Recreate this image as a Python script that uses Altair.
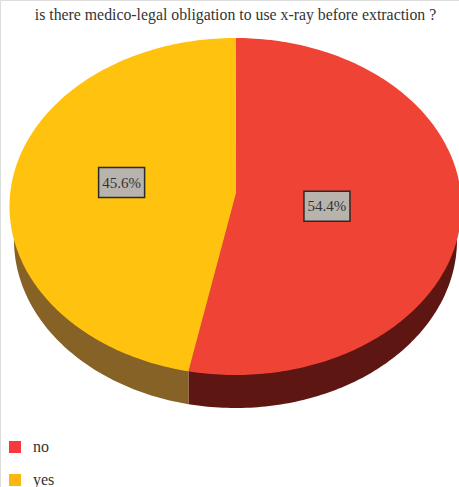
import math
import altair as alt
import pandas as pd

# Survey answers
categories = ["no", "yes"]
shares = [54.4, 45.6]
percent_labels = ["54.4%", "45.6%"]

# Colours
top_colors = ["#ef4335", "#ffc20f"]
wall_colors = ["#5e1613", "#866227"]
legend_colors = ["#f33b3b", "#ffb612"]

# Canvas and pie geometry, in plot units
W, H = 459, 487
TOP = dict(cx=235.5, cy=206.5, rx=226.0, ry=168.5)
BOTTOM = dict(cx=235.5, cy=240.0, rx=221.5, ry=168.0)
APEX = (236.0, 193.0)
FORESHORTEN = 0.9805   # front of the tilted disc reads slightly narrower
label_radius = [0.41, 0.51]
label_turn = [5.0, 1.0]


def on_rim(e, deg):
    t = math.radians(deg)
    return e["cx"] + e["rx"] * math.sin(t), e["cy"] - e["ry"] * math.cos(t)


def arc(e, a, b, step=1.0):
    n = max(2, int(abs(b - a) / step))
    return [on_rim(e, a + (b - a) * k / n) for k in range(n + 1)]


def polygon(points):
    return alt.Data(values=[{"i": i, "x": p[0], "y": p[1]} for i, p in enumerate(points)])


x_scale = alt.Scale(domain=[0, W], range=[0, W], nice=False, zero=False)
y_scale = alt.Scale(domain=[0, H], range=[0, H], nice=False, zero=False)
x_enc = alt.X("x:Q", scale=x_scale, axis=None)
y_enc = alt.Y("y:Q", scale=y_scale, axis=None)


def shape(points, color):
    return (
        alt.Chart(polygon(points))
        .mark_line(interpolate="linear-closed", fill=color, strokeWidth=0, clip=False)
        .encode(x=x_enc, y=y_enc, order=alt.Order("i:Q"))
    )


split = 360.0 * shares[0] / 100.0 * FORESHORTEN
top_split = on_rim(TOP, split)
wall_split = math.degrees(math.pi + math.asin((BOTTOM["cx"] - top_split[0]) / BOTTOM["rx"]))

walls = [
    shape(arc(BOTTOM, 80, wall_split) + [top_split, APEX], wall_colors[0]),
    shape([top_split] + arc(BOTTOM, wall_split, 280) + [APEX], wall_colors[1]),
]
tops = [
    shape([APEX] + arc(TOP, 0, split), top_colors[0]),
    shape([APEX] + arc(TOP, split, 360), top_colors[1]),
]

# Percentage tags sit at each slice's middle direction
mids = [split / 2, (split + 360) / 2]
tags = []
for label, mid, radius, turn in zip(percent_labels, mids, label_radius, label_turn):
    t = math.radians(mid + turn)
    tags.append({
        "label": label,
        "x": APEX[0] + radius * TOP["rx"] * math.sin(t),
        "y": APEX[1] - radius * TOP["ry"] * math.cos(t),
    })
tag_data = alt.Data(values=tags)

tag_boxes = (
    alt.Chart(tag_data)
    .mark_rect(width=46, height=30, fill="#b9b3ae", stroke="#2a2a2a", strokeWidth=1.5)
    .encode(x=x_enc, y=y_enc)
)
tag_text = (
    alt.Chart(tag_data)
    .mark_text(font="Liberation Serif", fontSize=15, color="#333333", baseline="middle", align="center")
    .encode(x=x_enc, y=y_enc, text="label:N")
)

# Invisible layer that only feeds the colour legend
legend_layer = (
    alt.Chart(pd.DataFrame({"answer": categories}))
    .mark_square(size=0, opacity=0)
    .encode(
        color=alt.Color(
            "answer:N",
            scale=alt.Scale(domain=categories, range=legend_colors),
            legend=alt.Legend(
                title=None,
                orient="none",
                legendX=7,
                legendY=439,
                symbolType="square",
                symbolSize=144,
                symbolOpacity=1,
                symbolStrokeWidth=0,
                labelFont="Liberation Serif",
                labelFontSize=16,
                labelColor="#333333",
                labelOffset=10,
                rowPadding=17,
                padding=0,
            ),
        )
    )
)

chart = (
    alt.layer(*walls, *tops, tag_boxes, tag_text, legend_layer)
    .resolve_scale(color="independent")
    .properties(
        width=W,
        height=H,
        padding=0,
        autosize=alt.AutoSizeParams(type="none"),
        title=alt.TitleParams(
            "is there medico-legal obligation to use x-ray before extraction ?",
            font="Liberation Serif",
            fontSize=15.8,
            fontWeight="normal",
            color="#333333",
            anchor="middle",
            dy=28,
            dx=6,
        ),
    )
    .configure_view(stroke=None)
    .configure(background="white")
)

chart.save("out.html", embed_options={"renderer": "svg", "actions": False})
